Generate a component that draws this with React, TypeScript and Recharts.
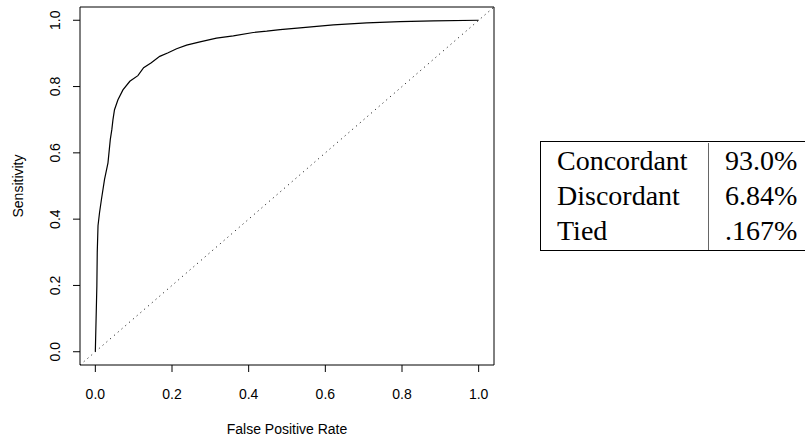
import React from "react";
import {
  LineChart,
  Line,
  XAxis,
  YAxis,
  ReferenceArea,
  ReferenceLine,
} from "recharts";

// ROC curve
const FPR = [
  0, 0.002, 0.004, 0.005, 0.007, 0.011, 0.016, 0.024, 0.033, 0.039, 0.043,
  0.046, 0.05, 0.059, 0.072, 0.09, 0.111, 0.126, 0.146, 0.168, 0.19, 0.212,
  0.238, 0.273, 0.316, 0.36, 0.412, 0.447, 0.482, 0.534, 0.621, 0.708, 0.795,
  0.882, 1.0,
];
const SENS = [
  0, 0.1, 0.2, 0.3, 0.38, 0.42, 0.46, 0.52, 0.57, 0.64, 0.67, 0.7, 0.73, 0.76,
  0.79, 0.816, 0.833, 0.857, 0.872, 0.891, 0.902, 0.914, 0.925, 0.935, 0.946,
  0.953, 0.963, 0.967, 0.972, 0.977, 0.986, 0.992, 0.996, 0.998, 1.0,
];
const TICKS = [0, 0.2, 0.4, 0.6, 0.8, 1.0];
const DOMAIN: [number, number] = [-0.04, 1.04];

const STAT_LABELS = ["Concordant", "Discordant", "Tied"];
const STAT_VALUES = ["93.0%", "6.84%", ".167%"];

const rocData = FPR.map((fpr, i) => ({ fpr, sens: SENS[i] }));

const SANS = "'Liberation Sans', Arial, Helvetica, sans-serif";
const SERIF = "'Liberation Serif', 'Times New Roman', serif";

function YTick(props: any) {
  const { x, y, payload } = props;
  return (
    <text
      x={x}
      y={y}
      transform={`rotate(-90, ${x}, ${y})`}
      textAnchor="middle"
      fontSize={14}
      fontFamily={SANS}
      fill="#000"
    >
      {Number(payload.value).toFixed(1)}
    </text>
  );
}

export default function App() {
  return (
    <div
      style={{
        position: "absolute",
        left: 0,
        top: 0,
        width: 805,
        height: 436,
        overflow: "hidden",
        background: "#fff",
      }}
    >
      <LineChart
        width={805}
        height={436}
        data={rocData}
        margin={{ top: 7, right: 311, bottom: 0, left: 0 }}
      >
        <XAxis
          dataKey="fpr"
          type="number"
          domain={DOMAIN}
          ticks={TICKS}
          allowDataOverflow
          height={71}
          axisLine={false}
          tickSize={7}
          tickMargin={17}
          tickLine={{ stroke: "#000" }}
          tick={{ fill: "#000", fontSize: 14, fontFamily: SANS }}
          tickFormatter={(v: number) => v.toFixed(1)}
          label={{
            content: ({ viewBox }: any) => (
              <text
                x={viewBox.x + viewBox.width / 2}
                y={viewBox.y + 69}
                textAnchor="middle"
                fontSize={14}
                fontFamily={SANS}
                fill="#000"
              >
                False Positive Rate
              </text>
            ),
          }}
        />
        <YAxis
          dataKey="sens"
          type="number"
          domain={DOMAIN}
          ticks={TICKS}
          allowDataOverflow
          width={80}
          axisLine={false}
          tickSize={7}
          tickMargin={13}
          tickLine={{ stroke: "#000" }}
          tick={<YTick />}
          label={{
            content: ({ viewBox }: any) => {
              const cx = 23;
              const cy = viewBox.y + viewBox.height / 2;
              return (
                <text
                  x={cx}
                  y={cy}
                  transform={`rotate(-90, ${cx}, ${cy})`}
                  textAnchor="middle"
                  fontSize={14}
                  fontFamily={SANS}
                  fill="#000"
                >
                  Sensitivity
                </text>
              );
            },
          }}
        />
        <ReferenceArea
          x1={DOMAIN[0]}
          x2={DOMAIN[1]}
          y1={DOMAIN[0]}
          y2={DOMAIN[1]}
          fill="none"
          fillOpacity={0}
          stroke="#000"
          strokeWidth={1}
        />
        <ReferenceLine
          segment={[
            { x: DOMAIN[0], y: DOMAIN[0] },
            { x: DOMAIN[1], y: DOMAIN[1] },
          ]}
          stroke="#000"
          strokeWidth={1}
          strokeDasharray="1 4"
        />
        <Line
          dataKey="sens"
          type="linear"
          stroke="#000"
          strokeWidth={1.2}
          dot={false}
          activeDot={false}
          isAnimationActive={false}
        />
      </LineChart>

      <div
        style={{
          position: "absolute",
          left: 540,
          top: 141,
          width: 300,
          height: 107,
          border: "1px solid #000",
          fontFamily: SERIF,
          fontSize: 28,
          lineHeight: "35px",
          color: "#000",
          display: "flex",
          paddingTop: 1,
        }}
      >
        <div
          style={{
            width: 168,
            paddingLeft: 16,
            boxSizing: "border-box",
            borderRight: "1px solid #666",
          }}
        >
          {STAT_LABELS.map((s) => (
            <div key={s}>{s}</div>
          ))}
        </div>
        <div style={{ paddingLeft: 16 }}>
          {STAT_VALUES.map((s) => (
            <div key={s}>{s}</div>
          ))}
        </div>
      </div>
    </div>
  );
}
